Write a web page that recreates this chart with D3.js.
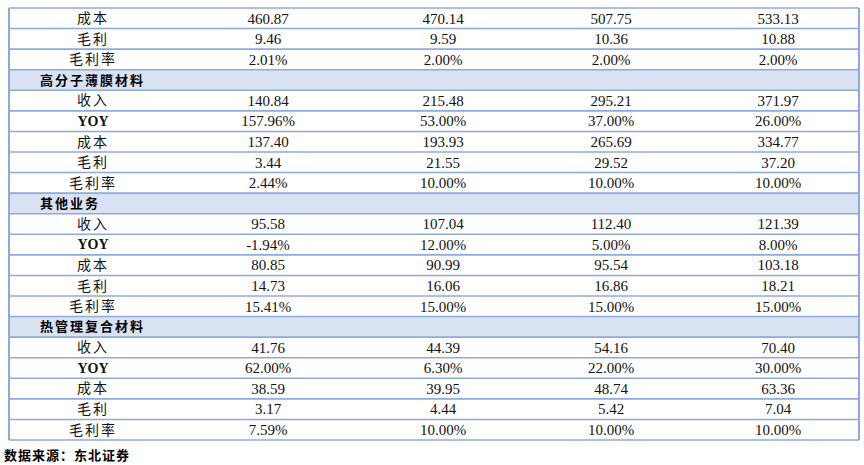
<!DOCTYPE html>
<html><head><meta charset="utf-8">
<script src="https://cdn.jsdelivr.net/npm/d3@7"></script>
<style>body{margin:0;background:#fff}</style>
</head><body>
<script>
// data
var metrics = ["收入", "YOY", "成本", "毛利", "毛利率"];
var topRows = [["成本", "460.87", "470.14", "507.75", "533.13"],
               ["毛利", "9.46", "9.59", "10.36", "10.88"],
               ["毛利率", "2.01%", "2.00%", "2.00%", "2.00%"]];
var sections = ["高分子薄膜材料", "其他业务", "热管理复合材料"];
var filmValues = [["140.84", "215.48", "295.21", "371.97"],
                  ["157.96%", "53.00%", "37.00%", "26.00%"],
                  ["137.40", "193.93", "265.69", "334.77"],
                  ["3.44", "21.55", "29.52", "37.20"],
                  ["2.44%", "10.00%", "10.00%", "10.00%"]];
var otherValues = [["95.58", "107.04", "112.40", "121.39"],
                   ["-1.94%", "12.00%", "5.00%", "8.00%"],
                   ["80.85", "90.99", "95.54", "103.18"],
                   ["14.73", "16.06", "16.86", "18.21"],
                   ["15.41%", "15.00%", "15.00%", "15.00%"]];
var thermalValues = [["41.76", "44.39", "54.16", "70.40"],
                     ["62.00%", "6.30%", "22.00%", "30.00%"],
                     ["38.59", "39.95", "48.74", "63.36"],
                     ["3.17", "4.44", "5.42", "7.04"],
                     ["7.59%", "10.00%", "10.00%", "10.00%"]];
var source = "数据来源：东北证券";

var rows = topRows.map(function(r){ return {type:"data", cells:r}; });
[filmValues, otherValues, thermalValues].forEach(function(vals, s){
  rows.push({type:"section", label:sections[s]});
  vals.forEach(function(v, i){ rows.push({type:"data", cells:[metrics[i]].concat(v)}); });
});

var W = 864, H = 465;
var svg = d3.select("body").append("svg").attr("width", W).attr("height", H);

var y = d3.scaleBand().domain(d3.range(rows.length)).range([8, 440]);
var x = d3.scaleOrdinal().domain([0,1,2,3,4]).range([93, 268, 443, 611, 778]);
var left = 9, right = 859;
var cjk = "'Noto Sans CJK SC', sans-serif", num = "'Liberation Serif', 'Times New Roman', serif";

var g = svg.selectAll("g.row").data(rows).enter().append("g").attr("class","row")
  .attr("transform", function(d,i){ return "translate(0," + y(i) + ")"; });

g.filter(function(d){ return d.type == "section"; }).append("rect")
  .attr("x", left).attr("width", right-left).attr("height", y.bandwidth()).attr("fill", "#d9e2f3");

g.filter(function(d){ return d.type == "section"; }).append("text")
  .attr("x", 40).attr("y", y.bandwidth()/2).attr("dy", "0.35em")
  .style("font-family", cjk).style("font-weight", "bold").style("font-size", "13px")
  .style("letter-spacing", "2px").text(function(d){ return d.label; });

g.filter(function(d){ return d.type == "data"; }).selectAll("text")
  .data(function(d){ return d.cells; }).enter().append("text")
  .attr("x", function(d,i){ return x(i); }).attr("y", y.bandwidth()/2).attr("dy", "0.35em")
  .attr("text-anchor", "middle")
  .style("font-family", function(d,i){ return (i == 0 && d != "YOY") ? cjk : num; })
  .style("font-weight", function(d){ return d == "YOY" ? "bold" : "normal"; })
  .style("letter-spacing", function(d,i){ return i == 0 && d != "YOY" ? "2px" : "0"; })
  .style("font-size", function(d,i){ return i == 0 ? "14px" : "15px"; }).attr("fill", "#111")
  .text(function(d){ return d; });

// horizontal rules
svg.selectAll("line.h").data(d3.range(rows.length + 1)).enter().append("line")
  .attr("x1", left).attr("x2", right)
  .attr("y1", function(i){ return i < rows.length ? y(i) : 440; })
  .attr("y2", function(i){ return i < rows.length ? y(i) : 440; })
  .attr("stroke", "#8eaadb").attr("stroke-width", 1.6);

// outer vertical borders
[left, right].forEach(function(px){
  svg.append("line").attr("x1", px).attr("x2", px).attr("y1", 8).attr("y2", 440)
    .attr("stroke", "#8eaadb").attr("stroke-width", 2);
});

svg.append("text").attr("x", 4).attr("y", 460)
  .style("font-family", cjk).style("font-weight", "bold").style("font-size", "13px")
  .style("letter-spacing", "1px").text(source);
</script>
</body></html>
